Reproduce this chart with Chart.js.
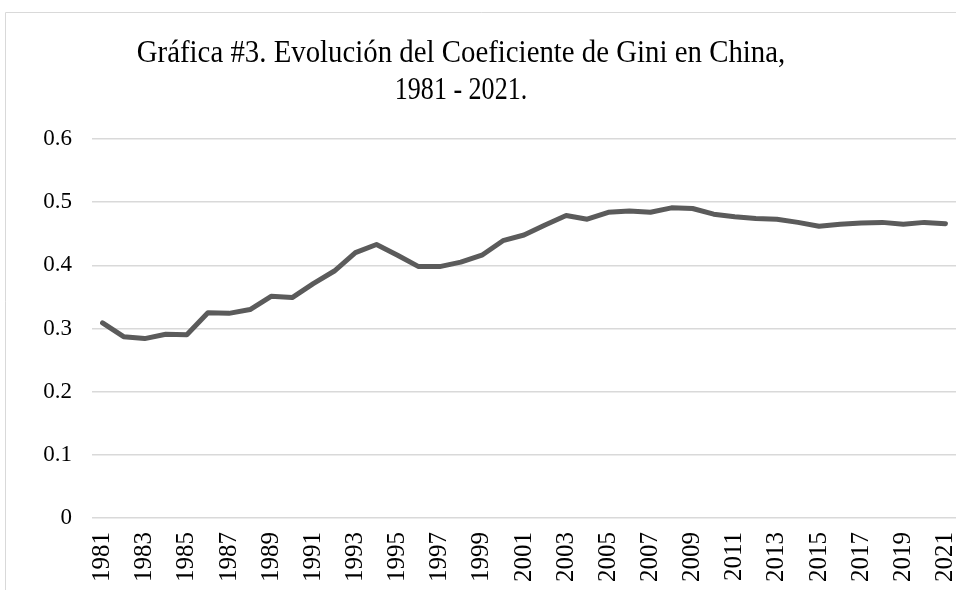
<!DOCTYPE html>
<html>
<head>
<meta charset="utf-8">
<title>Gini China</title>
<script src="https://cdn.jsdelivr.net/npm/chart.js@4"></script>
<style>
  body { margin: 0; background: #fff; }
  canvas { display: block; }
</style>
</head>
<body>
<canvas id="chart-container" width="956" height="590"></canvas>
<script>
// Years and Gini values
const years = [];
for (let y = 1981; y <= 2021; y++) years.push(String(y));

const gini = [
    0.309, 0.287, 0.284, 0.291, 0.290, 0.325, 0.324, 0.330, 0.351, 0.349,
    0.371, 0.391, 0.420, 0.433, 0.416, 0.398, 0.398, 0.405, 0.416, 0.439,
    0.448, 0.464, 0.479, 0.473, 0.484, 0.486, 0.484, 0.491, 0.490, 0.481,
    0.477, 0.474, 0.473, 0.468, 0.462, 0.465, 0.467, 0.468, 0.465, 0.468,
    0.466
];

const titleLines = ['Gráfica #3. Evolución del Coeficiente de Gini en China,', '1981 - 2021.'];

const serif = "'Liberation Serif', 'Times New Roman', serif";

// frame around the chart and the two-line title
const frameAndTitle = {
    id: 'frameAndTitle',
    beforeDraw(chart) {
        const c = chart.ctx;
        c.save();
        c.strokeStyle = '#d9d9d9';
        c.lineWidth = 1;
        c.beginPath();
        c.moveTo(5.5, 600);
        c.lineTo(5.5, 12.5);
        c.lineTo(960, 12.5);
        c.stroke();
        c.restore();
    },
    afterDraw(chart) {
        const c = chart.ctx;
        c.fillStyle = '#000';
        c.font = '31px ' + serif;
        c.textAlign = 'center';
        c.textBaseline = 'alphabetic';
        // line 1
        c.save();
        c.translate(461, 62);
        c.scale(0.93, 1);
        c.fillText(titleLines[0], 0, 0);
        c.restore();
        // line 2
        c.save();
        c.translate(461, 99);
        c.scale(0.84, 1);
        c.fillText(titleLines[1], 0, 0);
        c.restore();
    }
};

document.addEventListener('DOMContentLoaded', function() {
    const ctx = document.getElementById('chart-container').getContext('2d');
    new Chart(ctx, {
        type: 'line',
        data: {
            labels: years,
            datasets: [{
                label: 'Gini',
                data: gini,
                borderColor: '#5b5b5b',
                borderWidth: 5,
                pointRadius: 0,
                tension: 0,
                borderCapStyle: 'round',
                borderJoinStyle: 'round'
            }]
        },
        options: {
            responsive: false,
            animation: false,
            layout: { padding: { top: 139, left: 0, right: 0, bottom: 0 } },
            plugins: {
                legend: { display: false },
                title: { display: false },
                tooltip: { enabled: false }
            },
            scales: {
                x: {
                    offset: true,
                    grid: { display: false, drawTicks: false },
                    border: { display: false },
                    ticks: {
                        autoSkip: false,
                        maxRotation: 90,
                        minRotation: 90,
                        padding: 14,
                        color: '#000',
                        font: { family: serif, size: 25 },
                        callback: function(v, i) { return i % 2 === 0 ? years[i] : ''; }
                    },
                    afterFit: function(axis) {
                        axis.height = 72;
                        axis.paddingLeft = 0;
                        axis.paddingRight = 0;
                    }
                },
                y: {
                    min: 0,
                    max: 0.6,
                    grid: { color: '#d9d9d9', lineWidth: 1.5, drawTicks: false },
                    border: { display: false },
                    ticks: {
                        stepSize: 0.1,
                        padding: 20,
                        color: '#000',
                        font: { family: serif, size: 23 },
                        callback: function(v) { return Math.round(v * 10) / 10; }
                    },
                    afterFit: function(axis) { axis.width = 92; }
                }
            }
        },
        plugins: [frameAndTitle]
    });
});
</script>
</body>
</html>
